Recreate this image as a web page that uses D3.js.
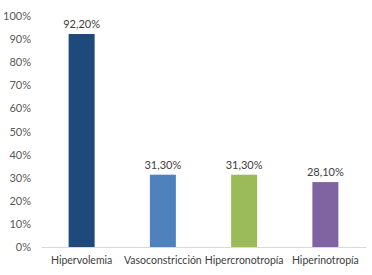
<!DOCTYPE html>
<html>
<head>
<meta charset="utf-8">
<script src="https://cdn.jsdelivr.net/npm/d3@7"></script>
<style>
  body { margin: 0; background: #fff; }
  text { font-family: Lato, "Open Sans", sans-serif; }
</style>
</head>
<body>
<svg id="chart"></svg>
<script>
var categories = ["Hipervolemia", "Vasoconstricción", "Hipercronotropía", "Hiperinotropía"]
var values = [92.2, 31.3, 31.3, 28.1]
var valueLabels = ["92,20%", "31,30%", "31,30%", "28,10%"]
var colors = ["#1F497D", "#4F81BD", "#9BBB59", "#8064A2"]
var yTicks = [0, 10, 20, 30, 40, 50, 60, 70, 80, 90, 100]

var dimensions = {
    width: 372,
    height: 275,
    margin: { top: 16, bottom: 28, right: 6, left: 41 }
}
dimensions.boundedWidth = dimensions.width - dimensions.margin.left - dimensions.margin.right
dimensions.boundedHeight = dimensions.height - dimensions.margin.top - dimensions.margin.bottom

var svg = d3.select("#chart")
    .attr("width", dimensions.width)
    .attr("height", dimensions.height)

var g = svg.append("g")
    .attr("transform", "translate(" + dimensions.margin.left + "," + dimensions.margin.top + ")")

var xScale = d3.scaleBand()
    .domain(categories)
    .range([0, dimensions.boundedWidth])
    .paddingInner(0.68)
    .paddingOuter(0.34)

var yScale = d3.scaleLinear()
    .domain([0, 100])
    .range([dimensions.boundedHeight, 0])

// y axis labels only, no line
var yAxis = g.append("g")
    .call(d3.axisLeft(yScale).tickValues(yTicks).tickFormat(d => d + "%").tickSize(0).tickPadding(10))
yAxis.select(".domain").remove()
yAxis.selectAll("text")
    .style("font-size", "11px")
    .attr("fill", "#595959")

// bars
g.selectAll("rect.bar")
    .data(values)
    .enter()
    .append("rect")
    .attr("class", "bar")
    .attr("x", (d, i) => xScale(categories[i]))
    .attr("y", d => yScale(d))
    .attr("width", xScale.bandwidth())
    .attr("height", d => yScale(0) - yScale(d))
    .attr("fill", (d, i) => colors[i])

// x axis
var xAxis = g.append("g")
    .attr("transform", "translate(0," + dimensions.boundedHeight + ")")
    .call(d3.axisBottom(xScale).tickSize(0).tickPadding(10))
xAxis.select(".domain").attr("stroke", "#d9d9d9")
xAxis.selectAll("text")
    .style("font-size", "10.5px")
    .attr("fill", "#404040")

// value labels
g.selectAll("text.val")
    .data(values)
    .enter()
    .append("text")
    .attr("class", "val")
    .attr("x", (d, i) => xScale(categories[i]) + xScale.bandwidth() / 2)
    .attr("y", d => yScale(d) - 6)
    .attr("text-anchor", "middle")
    .style("font-size", "11px")
    .attr("fill", "#404040")
    .text((d, i) => valueLabels[i])
</script>
</body>
</html>
